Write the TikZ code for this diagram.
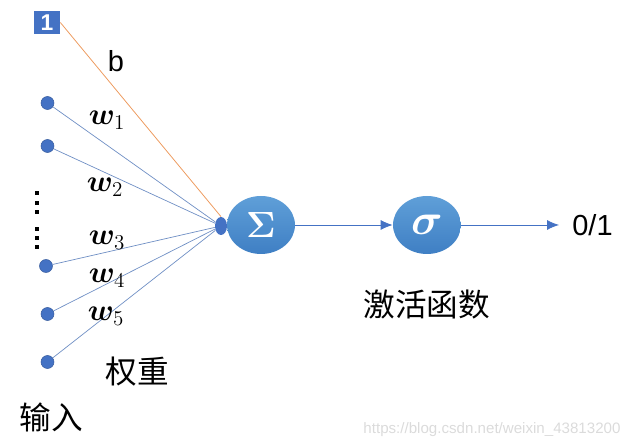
\documentclass[tikz,border=0pt]{standalone}
\usepackage{amsmath}
\usepackage{bm}
\usepackage{fontspec}
\setmainfont{Liberation Sans}
\newfontfamily\cjk{Noto Sans CJK SC}
\usetikzlibrary{arrows.meta,shapes.geometric}
\definecolor{lineblue}{HTML}{6F8FC4}
\definecolor{lineorange}{HTML}{ED9B5F}
\definecolor{dotblue}{HTML}{4472C4}
\definecolor{ballup}{HTML}{5F9FD8}
\definecolor{balldown}{HTML}{3F7FC4}
\tikzset{
	inp/.style={circle,fill=dotblue,draw=dotblue!80!black,line width=0.3pt,minimum size=0.26cm,inner sep=0pt},
	vdot/.style={fill=black,minimum size=0.07cm,inner sep=0pt},
	ball/.style={ellipse,top color=ballup,bottom color=balldown,text=white,minimum width=1.36cm,minimum height=1.16cm,inner sep=0pt},
	wt/.style={font=\fontsize{17.5}{20}\selectfont},
	han/.style={font=\cjk\fontsize{18}{20}\selectfont},
	lab/.style={font=\fontsize{16.5}{18}\selectfont},
	wire/.style={draw=lineblue,line width=0.4pt},
	go/.style={draw=dotblue,line width=0.45pt,-{Latex[length=0.24cm,width=0.2cm]}}
}
\begin{document}
\begin{tikzpicture}[x=0.02cm,y=-0.02cm]
	\useasboundingbox (0,0) rectangle (637,448);
	% inputs
	\node[fill=dotblue,text=white,minimum width=0.52cm,minimum height=0.46cm,inner sep=0pt,font=\bfseries\fontsize{13}{13}\selectfont] (one) at (47,22.5) {1};
	\node[inp] (x1) at (47.5,103) {};
	\node[inp] (x2) at (47.5,146) {};
	\node[inp] (x3) at (46,266) {};
	\node[inp] (x4) at (47.5,314) {};
	\node[inp] (x5) at (47.5,362) {};
	\node[vdot] (d1) at (37,193) {};
	\node[vdot] (d2) at (37,203) {};
	\node[vdot] (d3) at (37,212) {};
	\node[vdot] (d4) at (37,229) {};
	\node[vdot] (d5) at (37,238) {};
	\node[vdot] (d6) at (37,247) {};
	% sum and activation
	\node[ellipse,fill=dotblue,minimum width=0.24cm,minimum height=0.36cm,inner sep=0pt] (join) at (221,226) {};
	\node[ball,font=\fontsize{21}{21}\selectfont] (sum) at (261,225) {$\boldsymbol{\Sigma}$};
	\node[ball,font=\fontsize{25}{25}\selectfont] (act) at (427,225) {$\boldsymbol{\sigma}$};
	\coordinate (out) at (559,225);
	\draw[draw=lineorange,line width=0.45pt] (one.east) -- (join.north);
	\draw[wire] (x1) -- (join);
	\draw[wire] (x2) -- (join);
	\draw[wire] (x3) -- (join);
	\draw[wire] (x4) -- (join);
	\draw[wire] (x5) -- (join);
	\draw[go] (sum) -- (act);
	\draw[go] (act) -- (out);
	% labels
	\node[lab] (bias) at (116,61) {b};
	\node[wt] (w1) at (107,120) {$\boldsymbol{w}_1$};
	\node[wt] (w2) at (105,187) {$\boldsymbol{w}_2$};
	\node[wt] (w3) at (107,240) {$\boldsymbol{w}_3$};
	\node[wt] (w4) at (107,278) {$\boldsymbol{w}_4$};
	\node[wt] (w5) at (106,316) {$\boldsymbol{w}_5$};
	\node[lab] (res) at (592.5,225) {0/1};
	\node[han] (wname) at (137.5,372) {权重};
	\node[han] (xname) at (51,417) {输入};
	\node[han] (aname) at (427,305) {激活函数};
	\node[text=gray!28,font=\fontsize{8.6}{10}\selectfont] (mark) at (492,430) {https://blog.csdn.net/weixin\_43813200};
\end{tikzpicture}
\end{document}
